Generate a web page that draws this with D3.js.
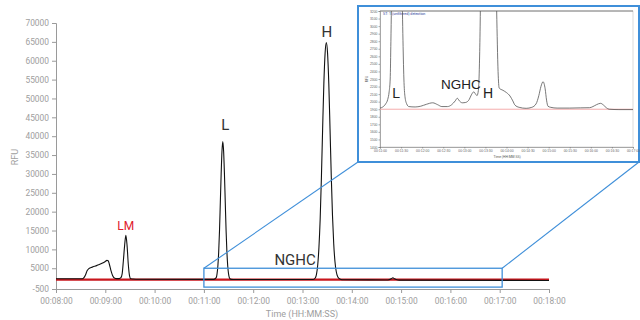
<!DOCTYPE html>
<html>
<head>
<meta charset="utf-8">
<script src="https://cdn.jsdelivr.net/npm/d3@7"></script>
<style>
  body { margin: 0; background: #fff; }
  svg { display: block; font-family: Roboto, sans-serif; }
</style>
</head>
<body>
<svg id="chart" width="640" height="320"></svg>
<script>
// main trace: time in seconds, RFU
const mainTimes = [480, 512, 514, 516, 518, 520, 524, 528, 532, 536, 540, 542, 543.5, 545, 547, 549, 551, 554, 557, 559, 560.5, 562, 563.5, 565, 566.5, 568, 569.5, 571, 574, 580,
  672, 675, 676, 677, 678, 679, 680, 681, 682, 683, 684, 685, 686, 687, 688, 689, 690, 691, 693, 698,
  790, 793, 795.5, 797, 798.5, 800, 801.5, 803, 804.5, 806, 807.5, 809, 810.5, 812, 813.5, 815, 816.5, 818, 819.5, 821, 823, 826, 830,
  880, 884, 888, 890, 892, 896, 900, 1080];
const mainRfu = [2200, 2200, 2500, 3300, 4400, 4900, 5300, 5600, 5900, 6300, 6800, 7100, 7000, 6000, 4300, 3000, 2400, 2250, 2250, 2500, 3500, 7000, 11000, 13700, 11000, 6000, 3000, 2200, 2150, 2100,
  2050, 2500, 3500, 5600, 9300, 15000, 22500, 30000, 36000, 38600, 36000, 30000, 22500, 15000, 9300, 5600, 3500, 2500, 2050, 2000,
  2000, 2000, 2400, 3400, 5800, 10500, 18000, 29000, 42000, 54000, 62000, 64800, 62000, 54000, 42000, 29500, 19000, 11500, 6800, 4200, 2700, 2100, 1950,
  1900, 1900, 2200, 2500, 2200, 1900, 1850, 1750];
const baseTimes = [480, 1080];
const baseRfu = [2000, 2000];

const yTicks = [-500, 5000, 10000, 15000, 20000, 25000, 30000, 35000, 40000, 45000, 50000, 55000, 60000, 65000, 70000];
const xTicks = [480, 540, 600, 660, 720, 780, 840, 900, 960, 1020, 1080];

const peakNames = ["LM", "L", "NGHC", "H"];
const peakTimes = [565, 686, 771, 809.5];
const peakRfu = [15200, 41600, 5900, 66200];
const peakColors = ["#e0202b", "#333", "#333", "#333"];

// zoomed window shown in the inset
const zoomTimes = [660, 1023];
const zoomRfu = [0, 5000];

// inset trace
const insetTimes = [660, 664, 668, 671, 673, 674.5, 675.5, 677, 680, 684, 688, 691, 692.5, 694, 695.5, 698, 701, 710, 718, 726, 735, 742, 748, 756, 762, 767, 770, 773, 777, 782, 787, 790, 793.5, 796, 798,
  800, 801.5, 802.5, 804, 808, 814, 820, 824, 826, 828, 829.6, 835, 840, 845, 849, 852, 858, 868, 876, 882, 886, 889, 892, 895, 897, 899, 903, 912, 930, 945, 958, 963, 968, 973.8, 978, 982, 986, 1000, 1020];
const insetRfu = [1915, 1930, 1970, 2030, 2130, 2300, 2800, 3700, 4600, 5000, 4600, 3700, 2900, 2300, 2070, 1970, 1935, 1930, 1940, 1965, 1985, 1960, 1935, 1935, 1960, 2010, 2045, 2010, 1985, 1990, 2030, 2090, 2130, 2100, 2080,
  2150, 2500, 3000, 4200, 5500, 6000, 5500, 4200, 3200, 2400, 2180, 2150, 2120, 2075, 2010, 1955, 1925, 1912, 1925, 1970, 2080, 2200, 2264, 2170, 2020, 1940, 1925, 1915, 1915, 1918, 1920, 1935, 1960, 1978, 1955, 1920, 1900, 1895, 1895];
const insetBase = 1900;
const insetYTicks = d3.range(1400, 3201, 100);
const insetXTicks = d3.range(660, 1021, 30);
const insetNames = ["L", "NGHC", "H"];
const insetNameTimes = [683, 775, 813.6];
const insetNameRfu = [2044, 2163, 2044];

const svg = d3.select("#chart");

function hms(s) {
  const h = Math.floor(s / 3600), m = Math.floor((s % 3600) / 60), sec = Math.round(s % 60);
  return [h, m, sec].map(v => String(v).padStart(2, "0")).join(":");
}

// ---------- main chart ----------
const x = d3.scaleLinear().domain([480, 1080]).range([56, 549]);
const y = d3.scaleLinear().domain([-500, 70000]).range([289, 23]);

const xAxis = svg.append("g").attr("transform", "translate(0,289)")
  .call(d3.axisBottom(x).tickValues(xTicks).tickFormat(hms).tickSize(4));
const yAxis = svg.append("g").attr("transform", "translate(56,0)")
  .call(d3.axisLeft(y).tickValues(yTicks).tickFormat(d => d).tickSize(4));
[xAxis, yAxis].forEach(a => {
  a.selectAll("path, line").attr("stroke", "#9a9a9a");
  a.selectAll("text").attr("fill", "#9e9e9e").attr("font-size", "8.4px").attr("font-family", "Roboto, sans-serif");
});
xAxis.selectAll("text").attr("dy", "0.95em");

svg.append("text").attr("transform", "translate(18,157) rotate(-90)")
  .attr("text-anchor", "middle").attr("fill", "#9e9e9e").attr("font-size", "9px").text("RFU");
svg.append("text").attr("x", 302).attr("y", 317)
  .attr("text-anchor", "middle").attr("fill", "#9e9e9e").attr("font-size", "9px").text("Time (HH:MM:SS)");

const line = d3.line().x(d => x(d[0])).y(d => y(d[1])).curve(d3.curveMonotoneX);

svg.append("path").datum(d3.zip(baseTimes, baseRfu)).attr("d", line)
  .attr("fill", "none").attr("stroke", "#c8161d").attr("stroke-width", 2.2);
svg.append("path").datum(d3.zip(mainTimes, mainRfu)).attr("d", line)
  .attr("fill", "none").attr("stroke", "#111").attr("stroke-width", 1.1);

svg.append("g").selectAll("text").data(d3.range(peakNames.length)).enter().append("text")
  .attr("x", i => x(peakTimes[i])).attr("y", i => y(peakRfu[i]))
  .attr("text-anchor", "middle")
  .attr("font-size", i => peakNames[i] === "LM" ? "12px" : "15px")
  .attr("fill", i => peakColors[i])
  .text(i => peakNames[i]);

// zoom rectangle and connectors
const blue = "#3f8fd9";
const frame = { x0: 358, y0: 6, x1: 639, y1: 162 };
const zx0 = x(zoomTimes[0]), zx1 = x(zoomTimes[1]), zy0 = y(zoomRfu[1]), zy1 = y(zoomRfu[0]);
svg.append("rect").attr("x", zx0).attr("y", zy0).attr("width", zx1 - zx0).attr("height", zy1 - zy0)
  .attr("fill", "none").attr("stroke", blue).attr("stroke-width", 1.3);
svg.append("line").attr("x1", zx0).attr("y1", zy0).attr("x2", frame.x0).attr("y2", frame.y1)
  .attr("stroke", blue).attr("stroke-width", 1.1);
svg.append("line").attr("x1", zx1).attr("y1", zy0).attr("x2", frame.x1).attr("y2", frame.y1)
  .attr("stroke", blue).attr("stroke-width", 1.1);

// ---------- inset ----------
const inset = svg.append("g");
inset.append("rect").attr("x", frame.x0).attr("y", frame.y0)
  .attr("width", frame.x1 - frame.x0).attr("height", frame.y1 - frame.y0)
  .attr("fill", "#fff").attr("stroke", blue).attr("stroke-width", 2);

const ix = d3.scaleLinear().domain([660, 1020]).range([380, 633]);
const iy = d3.scaleLinear().domain([1400, 3200]).range([147, 11]);

inset.append("rect").attr("x", 380).attr("y", 11).attr("width", 253).attr("height", 136)
  .attr("fill", "#fff").attr("stroke", "#c4c4c4").attr("stroke-width", 0.6);
inset.append("line").attr("x1", 380).attr("x2", 633).attr("y1", 11).attr("y2", 11)
  .attr("stroke", "#666").attr("stroke-width", 0.8);

const ixAxis = inset.append("g").attr("transform", "translate(0,147)")
  .call(d3.axisBottom(ix).tickValues(insetXTicks).tickFormat(hms).tickSize(1.5));
const iyAxis = inset.append("g").attr("transform", "translate(380,0)")
  .call(d3.axisLeft(iy).tickValues(insetYTicks).tickFormat(d => d).tickSize(1.5));
[ixAxis, iyAxis].forEach(a => {
  a.selectAll("path, line").attr("stroke", "#777").attr("stroke-width", 0.6);
  a.selectAll("text").attr("fill", "#666").attr("font-size", "3.4px").attr("font-family", "Liberation Sans, Arial, sans-serif");
});
iyAxis.selectAll("text").attr("x", -2.5);
ixAxis.selectAll("text").attr("y", 3);

inset.append("text").attr("transform", "translate(368,79) rotate(-90)")
  .attr("text-anchor", "middle").attr("fill", "#555").attr("font-size", "3.6px").text("RFU");
inset.append("text").attr("x", 507).attr("y", 157.5)
  .attr("text-anchor", "middle").attr("fill", "#555").attr("font-size", "3.4px").text("Time (HH:MM:SS)");
inset.append("text").attr("x", 383).attr("y", 14.5)
  .attr("fill", "#1f3c9c").attr("font-size", "3.6px").text("ST: 1 (unfiltered) detection");

svg.append("defs").append("clipPath").attr("id", "insetClip")
  .append("rect").attr("x", 380).attr("y", 11).attr("width", 253).attr("height", 136);

const iline = d3.line().x(d => ix(d[0])).y(d => iy(d[1])).curve(d3.curveMonotoneX);
const plot = inset.append("g").attr("clip-path", "url(#insetClip)");
plot.append("line").attr("x1", ix(660)).attr("x2", ix(1020)).attr("y1", iy(insetBase)).attr("y2", iy(insetBase))
  .attr("stroke", "#f3a3a3").attr("stroke-width", 0.9);
plot.append("path").datum(d3.zip(insetTimes, insetRfu)).attr("d", iline)
  .attr("fill", "none").attr("stroke", "#555").attr("stroke-width", 0.8);

inset.append("g").selectAll("text").data(d3.range(insetNames.length)).enter().append("text")
  .attr("x", i => ix(insetNameTimes[i])).attr("y", i => iy(insetNameRfu[i]))
  .attr("text-anchor", "middle").attr("font-size", i => insetNames[i] === "NGHC" ? "13.5px" : "14px")
  .attr("font-family", "Liberation Sans, Arial, sans-serif")
  .attr("fill", "#222").text(i => insetNames[i]);
</script>
</body>
</html>
